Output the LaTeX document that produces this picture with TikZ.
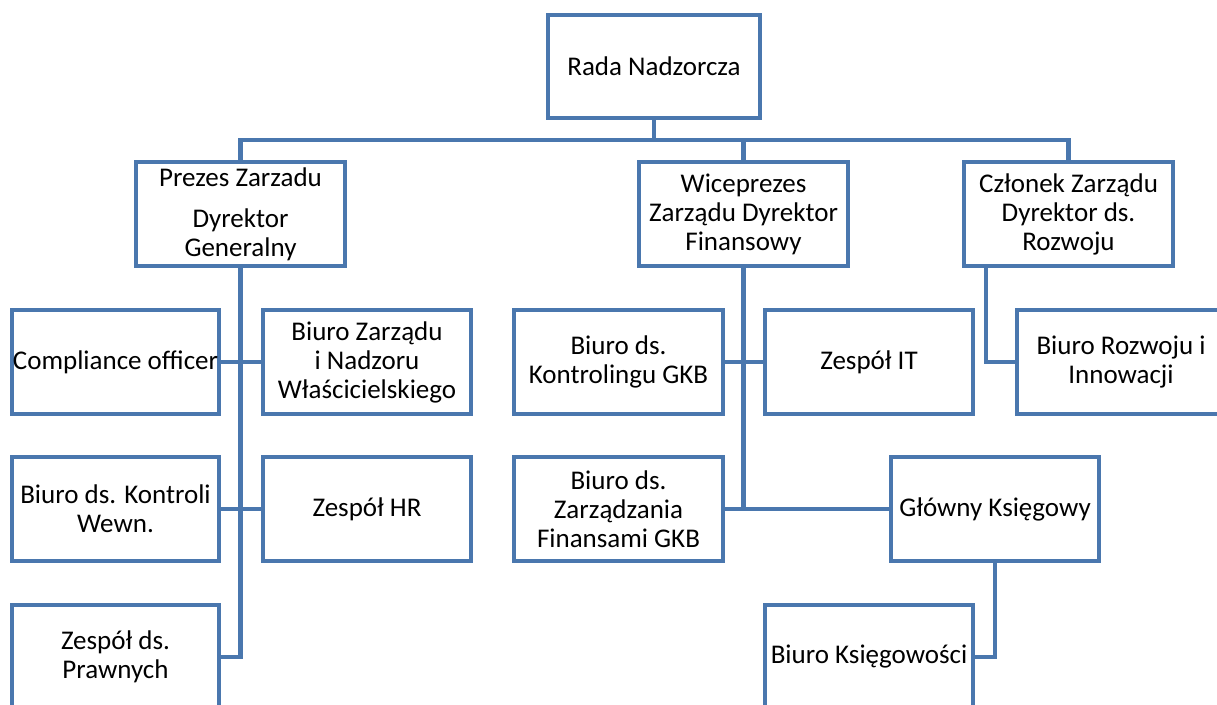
\documentclass[tikz,border=0pt]{standalone}
\usepackage{fontspec}
\setmainfont{Carlito}
\definecolor{orgblue}{HTML}{4A77AE}
\begin{document}
\begin{tikzpicture}[x=1pt,y=-1pt,
  box/.style={draw=orgblue,line width=4.6pt,fill=white,rectangle,
    minimum width=208pt,minimum height=104pt,inner sep=0pt,align=center,
    font=\fontsize{27}{29}\selectfont},
  link/.style={draw=orgblue,line width=4.6pt,line join=miter}]
\useasboundingbox (0,0) rectangle (1217,704);
\clip (0,0) rectangle (1217,704);
\coordinate (bus) at (0,140);
% nodes
\node[box,minimum width=212pt,minimum height=103pt] (rada) at (654,66.5) {Rada Nadzorcza};
\node[box,minimum width=209pt] (prezes) at (240.5,214) {Prezes Zarzadu\\[12pt]Dyrektor\\Generalny};
\node[box,minimum width=209pt] (wice) at (743.5,214) {Wiceprezes\\Zarządu Dyrektor\\Finansowy};
\node[box,minimum width=209pt] (czl) at (1068.5,214) {Członek Zarządu\\Dyrektor ds.\\Rozwoju};
\node[box,minimum width=207pt] (comp) at (115.5,362) {Compliance officer};
\node[box] (bzarz) at (367,362) {Biuro Zarządu\\i Nadzoru\\Właścicielskiego};
\node[box,minimum width=207pt] (kontr) at (115.5,509) {Biuro ds. Kontroli\\Wewn.};
\node[box] (hr) at (367,509) {Zespół HR};
\node[box,minimum width=207pt] (praw) at (115.5,657) {Zespół ds.\\Prawnych};
\node[box,minimum width=209pt] (kontrol) at (618.5,362) {Biuro ds.\\Kontrolingu GKB};
\node[box] (it) at (869,362) {Zespół IT};
\node[box,minimum width=209pt] (finans) at (618.5,509) {Biuro ds.\\Zarządzania\\Finansami GKB};
\node[box] (glowny) at (995,509) {Główny Księgowy};
\node[box] (ksieg) at (869,657) {Biuro Księgowości};
\node[box] (rozw) at (1121,362) {Biuro Rozwoju i\\Innowacji};
\path (czl.south) ++(-82.5,0) coordinate (czlport);
% connectors
\draw[link] (rada.south) -- (rada.south|-bus) -| (prezes.north);
\draw[link] (rada.south|-bus) -| (wice.north);
\draw[link] (rada.south|-bus) -| (czl.north);
\draw[link] (prezes.south) |- (comp.east);
\draw[link] (prezes.south) |- (bzarz.west);
\draw[link] (prezes.south) |- (kontr.east);
\draw[link] (prezes.south) |- (hr.west);
\draw[link] (prezes.south) |- (praw.east);
\draw[link] (wice.south) |- (kontrol.east);
\draw[link] (wice.south) |- (it.west);
\draw[link] (wice.south) |- (finans.east);
\draw[link] (wice.south) |- (glowny.west);
\draw[link] (glowny.south) |- (ksieg.east);
\draw[link] (czlport) |- (rozw.west);
\end{tikzpicture}
\end{document}
